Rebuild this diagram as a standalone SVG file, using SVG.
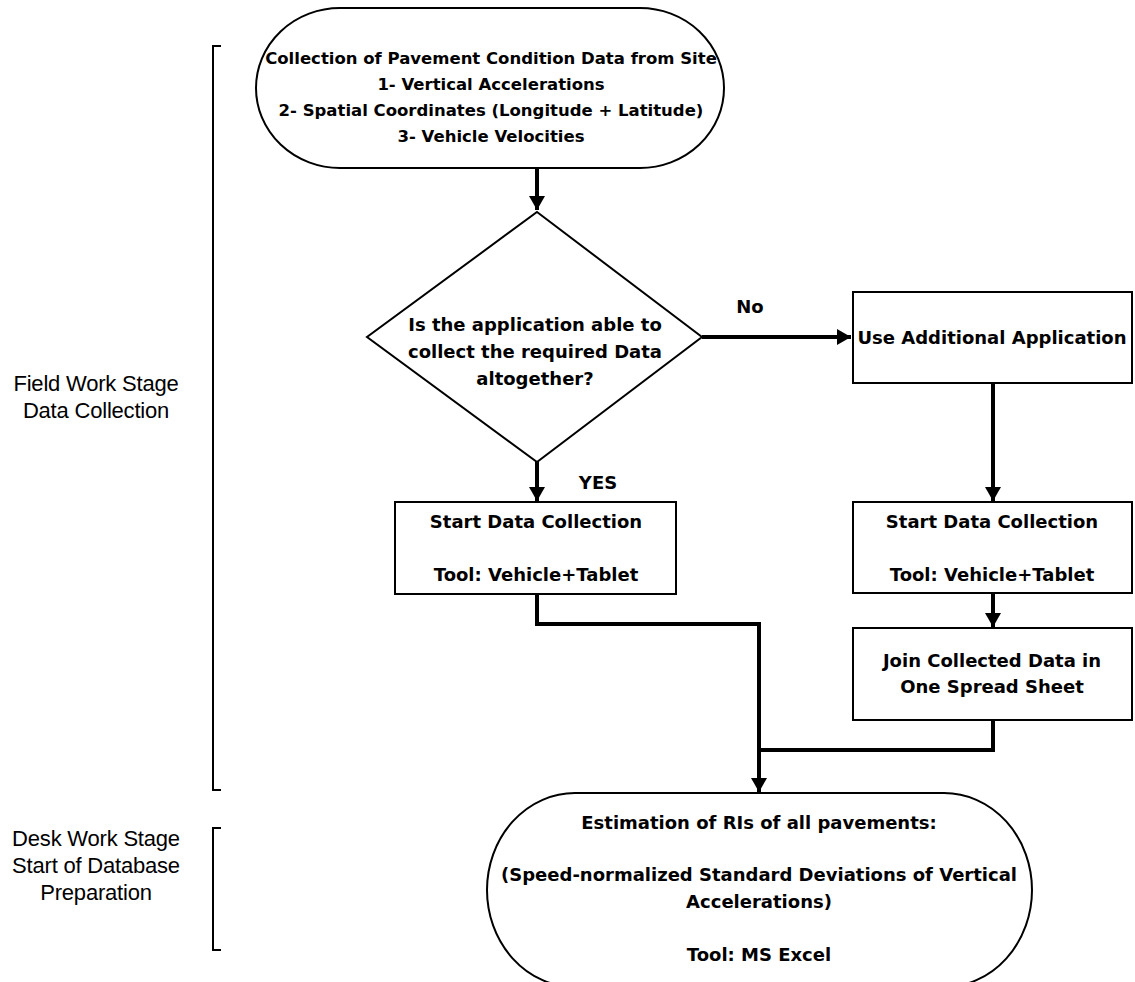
<svg xmlns="http://www.w3.org/2000/svg" width="1135" height="982" viewBox="0 0 1135 982">
<style>
.shape{fill:#fff;stroke:#000;stroke-width:2}
.conn{fill:none;stroke:#000;stroke-width:4}
.br{fill:none;stroke:#000;stroke-width:2}
.t{font-family:"DejaVu Sans",sans-serif;font-weight:bold;font-size:18px;fill:#000;text-anchor:middle}
.top{font-size:16.5px}
.lab{font-family:"Liberation Sans",Arial,sans-serif;font-size:22px;fill:#000;text-anchor:middle;letter-spacing:-0.2px}
</style>
<defs>
<marker id="ah" markerUnits="userSpaceOnUse" markerWidth="16" markerHeight="16" refX="14" refY="8" orient="auto">
<path d="M0,0 L14,8 L0,16 z" fill="#000"/>
</marker>
</defs>
<rect width="1135" height="982" fill="#fff"/>
<g id="brackets">
<path class="br" d="M221,46 H213 V790 H221"/>
<path class="br" d="M221,828 H213 V950 H221"/>
</g>
<g id="label-field">
<text class="lab" x="96" y="391">Field Work Stage</text>
<text class="lab" x="96" y="418">Data Collection</text>
</g>
<g id="label-desk">
<text class="lab" x="96" y="846">Desk Work Stage</text>
<text class="lab" x="96" y="873">Start of Database</text>
<text class="lab" x="96" y="900">Preparation</text>
</g>
<g id="connectors">
<path class="conn" d="M537,168 V210" marker-end="url(#ah)"/>
<path class="conn" d="M537,462 V501" marker-end="url(#ah)"/>
<path class="conn" d="M702,337 H851" marker-end="url(#ah)"/>
<path class="conn" d="M993,383 V501" marker-end="url(#ah)"/>
<path class="conn" d="M993,593 V627" marker-end="url(#ah)"/>
<path class="conn" d="M537,594 V624 H759 V792" marker-end="url(#ah)"/>
<path class="conn" d="M993,720 V750 H759"/>
<text class="t" x="750" y="313">No</text>
<text class="t" x="598" y="489">YES</text>
</g>
<g id="start">
<rect class="shape" x="256" y="8" width="468" height="160" rx="84" ry="80"/>
<text class="t top" x="491" y="64">Collection of Pavement Condition Data from Site</text>
<text class="t top" x="491" y="90">1- Vertical Accelerations</text>
<text class="t top" x="491" y="116">2- Spatial Coordinates (Longitude + Latitude)</text>
<text class="t top" x="491" y="142">3- Vehicle Velocities</text>
</g>
<g id="decision">
<polygon class="shape" points="537,212 702,337 537,462 367,337"/>
<text class="t" x="535" y="331">Is the application able to</text>
<text class="t" x="535" y="358">collect the required Data</text>
<text class="t" x="535" y="385">altogether?</text>
</g>
<g id="additional">
<rect class="shape" x="853" y="292" width="279" height="91"/>
<text class="t" x="992" y="344">Use Additional Application</text>
</g>
<g id="start-left">
<rect class="shape" x="395" y="502" width="281" height="92"/>
<text class="t" x="536" y="528">Start Data Collection</text>
<text class="t" x="536" y="581">Tool: Vehicle+Tablet</text>
</g>
<g id="start-right">
<rect class="shape" x="853" y="502" width="279" height="91"/>
<text class="t" x="992" y="528">Start Data Collection</text>
<text class="t" x="992" y="581">Tool: Vehicle+Tablet</text>
</g>
<g id="join">
<rect class="shape" x="853" y="628" width="279" height="92"/>
<text class="t" x="992" y="667">Join Collected Data in</text>
<text class="t" x="992" y="693">One Spread Sheet</text>
</g>
<g id="estimation">
<rect class="shape" x="487" y="793" width="545" height="194" rx="88" ry="97"/>
<text class="t" x="759" y="829">Estimation of RIs of all pavements:</text>
<text class="t" x="759" y="881">(Speed-normalized Standard Deviations of Vertical</text>
<text class="t" x="759" y="908">Accelerations)</text>
<text class="t" x="759" y="961">Tool: MS Excel</text>
</g>
</svg>
